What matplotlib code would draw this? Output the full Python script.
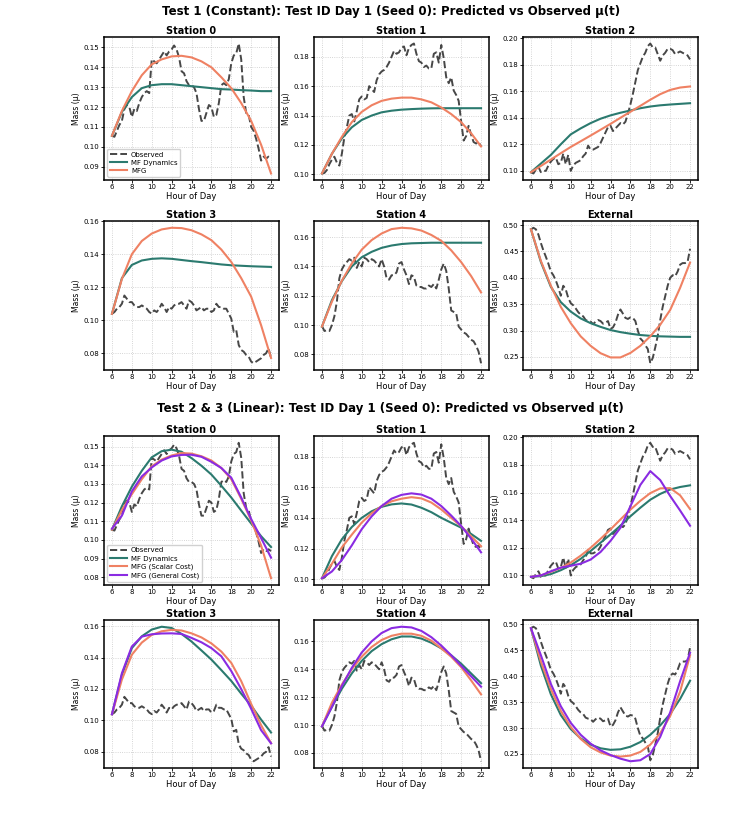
import numpy as np
import matplotlib
matplotlib.use('Agg')
import matplotlib.pyplot as plt

plt.rcParams.update({'font.size': 5.5})

# -------------------------------------------------------------------------------

COLORS = {
    'Observed': '#333333',
    'MF Dynamics': '#2b7a6f',      # teal
    'MFG': '#ef8163',              # salmon
    'MFG (General Cost)': '#8a2be2',  # purple
}

STATIONS = ['Station 0', 'Station 1', 'Station 2', 'Station 3', 'Station 4', 'External']

# observation times (15 min) and model output times (hourly)
t_obs = np.arange(6, 22.25, 0.25)
t_mod = np.arange(6, 23, 1)

# ---- observed mu(t), one row per hour (4 samples) -----------------------------
obs_s0 = [.1055, .105, .108, .111,  .113, .119, .121, .120,  .115, .119, .118, .122,
          .125, .127, .128, .127,  .144, .143, .142, .144,  .146, .148, .146, .148,
          .149, .151, .149, .145,  .138, .137, .133, .131,  .131, .130, .127, .119,
          .113, .113, .117, .121,  .120, .115, .116, .122,  .131, .132, .131, .134,
          .142, .146, .147, .152,  .144, .125, .117, .116,  .110, .108, .104, .099,
          .093, .095, .094, .095,  .094]
obs_s1 = [.1006, .101, .103, .107,  .110, .112, .108, .106,  .114, .125, .132, .140,
          .141, .136, .143, .151,  .153, .151, .152, .160,  .158, .156, .164, .168,
          .170, .171, .173, .176,  .180, .184, .182, .183,  .186, .187, .181, .186,
          .188, .189, .182, .177,  .176, .173, .174, .172,  .172, .182, .183, .176,
          .188, .179, .166, .162,  .166, .157, .154, .150,  .136, .123, .126, .133,
          .127, .122, .121, .122,  .119]
obs_s2 = [.099, .098, .101, .103,  .099, .100, .100, .104,  .107, .109, .110, .105,
          .106, .113, .105, .112,  .100, .104, .106, .107,  .108, .111, .113, .119,
          .116, .116, .117, .118,  .121, .125, .129, .133,  .134, .130, .132, .134,
          .136, .135, .137, .143,  .150, .158, .167, .176,  .181, .186, .189, .194,
          .196, .193, .193, .188,  .183, .187, .189, .192,  .192, .191, .188, .189,
          .190, .189, .188, .187,  .184]
obs_s3 = [.1039, .105, .107, .108,  .110, .115, .113, .111,  .111, .109, .108, .108,
          .109, .108, .107, .105,  .104, .106, .105, .107,  .110, .108, .105, .108,
          .107, .109, .110, .110,  .111, .109, .107, .112,  .111, .109, .106, .107,
          .108, .106, .107, .107,  .105, .106, .110, .108,  .108, .107, .107, .104,
          .101, .093, .094, .085,  .082, .081, .079, .078,  .075, .074, .075, .076,
          .077, .079, .080, .083,  .077]
obs_s4 = [.0994, .096, .0965, .096,  .100, .106, .116, .132,  .138, .141, .143, .145,
          .144, .146, .139, .143,  .140, .146, .145, .143,  .145, .144, .142, .140,
          .145, .140, .132, .131,  .134, .134, .136, .142,  .143, .138, .134, .128,
          .134, .133, .127, .126,  .126, .125, .125, .127,  .126, .128, .125, .131,
          .138, .142, .137, .125,  .110, .109, .108, .099,  .097, .095, .094, .092,
          .090, .089, .086, .082,  .074]
obs_ext = [.492, .495, .492, .482,  .466, .452, .440, .427,  .412, .405, .395, .382,
           .366, .385, .378, .362,  .352, .348, .342, .335,  .330, .327, .320, .318,
           .317, .312, .317, .320,  .318, .313, .315, .318,  .303, .306, .315, .330,
           .340, .332, .324, .322,  .325, .324, .318, .300,  .285, .280, .272, .265,
           .238, .248, .268, .290,  .320, .345, .365, .385,  .400, .405, .403, .412,
           .425, .428, .428, .430,  .455]

# ---- Test 1 (constant) predictions, hourly -----------------------------------
mfd_t1_s0 = [.1055, .1175, .125, .1295, .131, .1315, .1315, .131, .1305, .130, .1295, .129, .1288, .1285, .1283, .128, .128]
mfg_t1_s0 = [.1055, .118, .128, .136, .1415, .144, .1455, .1458, .145, .143, .140, .135, .1295, .122, .113, .101, .0865]
mfd_t1_s1 = [.1006, .114, .1245, .132, .137, .140, .1422, .1433, .144, .1444, .1447, .1449, .145, .145, .145, .145, .145]
mfg_t1_s1 = [.1006, .114, .1255, .1355, .1425, .147, .150, .1515, .1522, .1522, .151, .149, .1455, .141, .1355, .128, .119]
mfd_t1_s2 = [.099, .1055, .112, .120, .1275, .132, .136, .1393, .1418, .1438, .1455, .1472, .1485, .1494, .150, .1505, .151]
mfg_t1_s2 = [.099, .1037, .1085, .1133, .118, .1223, .1266, .131, .1354, .140, .1445, .149, .1536, .1578, .161, .1628, .1636]
mfd_t1_s3 = [.1039, .1255, .1335, .1362, .1372, .1375, .1372, .1365, .1358, .1352, .1345, .1338, .1333, .133, .1327, .1325, .1323]
mfg_t1_s3 = [.1039, .125, .140, .148, .1525, .155, .156, .1558, .1545, .152, .1485, .1428, .1353, .1255, .1143, .097, .0772]
mfd_t1_s4 = [.099, .117, .130, .140, .1463, .150, .1527, .1543, .1553, .1558, .156, .1562, .1562, .1562, .1562, .1562, .1562]
mfg_t1_s4 = [.099, .116, .1303, .142, .1515, .158, .1625, .1655, .1664, .166, .1645, .1615, .1575, .151, .143, .1335, .1223]
mfd_t1_ext = [.492, .430, .383, .354, .336, .323, .314, .307, .301, .297, .294, .2915, .290, .289, .2885, .288, .288]
mfg_t1_ext = [.492, .432, .385, .345, .314, .289, .271, .257, .249, .249, .2575, .271, .289, .311, .339, .381, .429]

# ---- Test 2 & 3 (linear) predictions, hourly ---------------------------------
mfd_t2_s0 = [.1055, .118, .1285, .137, .1442, .1475, .1483, .1472, .1438, .1397, .135, .129, .1227, .1157, .1088, .102, .0962]
mfs_t2_s0 = [.1055, .116, .1245, .1325, .1394, .143, .1452, .1465, .1462, .1448, .1425, .1385, .1325, .122, .1105, .097, .0795]
mfgc_t2_s0 = [.106, .113, .126, .134, .1388, .1425, .1447, .1455, .1456, .1445, .1418, .1385, .1333, .1227, .1112, .101, .0905]
mfd_t2_s1 = [.1006, .115, .126, .134, .140, .1443, .1472, .1488, .1494, .1487, .1466, .1437, .140, .1368, .1336, .1295, .125]
mfs_t2_s1 = [.1006, .110, .1207, .129, .1369, .143, .1477, .1508, .1525, .1535, .1527, .150, .1455, .140, .1345, .128, .1215]
mfgc_t2_s1 = [.1006, .105, .1125, .122, .1326, .141, .1477, .1525, .155, .156, .1552, .1525, .1477, .1415, .1347, .1265, .1175]
mfd_t2_s2 = [.099, .0995, .101, .1038, .1074, .112, .1177, .1237, .1297, .136, .1428, .149, .1548, .159, .1622, .164, .1652]
mfs_t2_s2 = [.099, .100, .1026, .1055, .1093, .1143, .120, .1265, .1333, .1405, .1476, .154, .1596, .163, .1632, .158, .148]
mfgc_t2_s2 = [.099, .100, .103, .1057, .107, .1085, .1115, .117, .125, .1345, .150, .1655, .1755, .169, .1575, .147, .136]
mfd_t2_s3 = [.1039, .129, .146, .1535, .1578, .1596, .1588, .155, .1502, .1445, .1387, .132, .1251, .117, .1094, .1005, .0923]
mfs_t2_s3 = [.1039, .126, .1418, .1495, .1544, .1567, .1576, .1572, .1554, .1528, .149, .1438, .1366, .125, .1105, .097, .0855]
mfgc_t2_s3 = [.1039, .130, .147, .1533, .1548, .1553, .1554, .155, .1525, .1497, .146, .1408, .1314, .1199, .1074, .0938, .0854]
mfd_t2_s4 = [.099, .113, .126, .137, .146, .153, .158, .1615, .1635, .1635, .162, .159, .155, .150, .144, .137, .130]
mfs_t2_s4 = [.099, .116, .129, .140, .149, .156, .161, .164, .1655, .1655, .164, .1605, .155, .149, .1415, .132, .122]
mfgc_t2_s4 = [.099, .113, .128, .141, .152, .160, .166, .1695, .1705, .170, .1675, .163, .157, .150, .1425, .135, .1275]
mfd_t2_ext = [.492, .420, .365, .325, .298, .280, .268, .261, .258, .259, .264, .273, .287, .305, .327, .356, .391]
mfs_t2_ext = [.492, .428, .375, .333, .302, .279, .263, .253, .247, .245, .247, .254, .268, .290, .323, .370, .440]
mfgc_t2_ext = [.492, .440, .385, .342, .310, .287, .270, .257, .248, .241, .236, .238, .250, .283, .330, .390, .445]

OBS = [obs_s0, obs_s1, obs_s2, obs_s3, obs_s4, obs_ext]

# -------------------------------------------------------------------------------

FIG_W, FIG_H = 737, 814
COL_X = [104, 314, 523]
COL_W = 175
ROWS_TOP = [(37, 180), (221, 370)]
ROWS_BOT = [(436, 585), (620, 768)]


def make_axes(fig, rows):
    axes = []
    for top, bottom in rows:
        for x in COL_X:
            ax = fig.add_axes([x / FIG_W, 1 - bottom / FIG_H,
                               COL_W / FIG_W, (bottom - top) / FIG_H])
            axes.append(ax)
    return axes


def style_ax(ax, title):
    ax.set_title(title, fontsize=7, fontweight='bold', pad=2)
    ax.set_xlabel('Hour of Day', fontsize=6, labelpad=1)
    ax.set_ylabel('Mass (μ)', fontsize=5.5, labelpad=2)
    ax.set_xticks(range(6, 23, 2))
    ax.tick_params(labelsize=5, length=2, width=0.6, pad=1.2)
    ax.grid(True, linestyle=':', linewidth=0.6, color='#bbbbbb', alpha=0.8)
    for s in ax.spines.values():
        s.set_linewidth(1.1)
        s.set_color('black')


def add_legend(ax):
    ax.legend(loc='lower left', fontsize=5, framealpha=0.9, handlelength=2.4,
              labelspacing=0.3, borderpad=0.4, handletextpad=0.6)


def plot_results():
    fig = plt.figure(figsize=(FIG_W / 100, FIG_H / 100), dpi=100)

    ## 1. Test 1 (constant)
    t1 = [(mfd_t1_s0, mfg_t1_s0), (mfd_t1_s1, mfg_t1_s1), (mfd_t1_s2, mfg_t1_s2),
          (mfd_t1_s3, mfg_t1_s3), (mfd_t1_s4, mfg_t1_s4), (mfd_t1_ext, mfg_t1_ext)]
    for i, ax in enumerate(make_axes(fig, ROWS_TOP)):
        ax.plot(t_obs, OBS[i], '--', color=COLORS['Observed'], lw=1.4, alpha=0.9, label='Observed')
        ax.plot(t_mod, t1[i][0], color=COLORS['MF Dynamics'], lw=1.5, label='MF Dynamics')
        ax.plot(t_mod, t1[i][1], color=COLORS['MFG'], lw=1.5, label='MFG')
        style_ax(ax, STATIONS[i])
        if i == 0:
            add_legend(ax)
    fig.text(0.53, 1 - 11 / FIG_H,
             'Test 1 (Constant): Test ID Day 1 (Seed 0): Predicted vs Observed μ(t)',
             ha='center', va='center', fontsize=8.5, fontweight='bold')

    ## 2. Test 2 & 3 (linear)
    t2 = [(mfd_t2_s0, mfs_t2_s0, mfgc_t2_s0), (mfd_t2_s1, mfs_t2_s1, mfgc_t2_s1),
          (mfd_t2_s2, mfs_t2_s2, mfgc_t2_s2), (mfd_t2_s3, mfs_t2_s3, mfgc_t2_s3),
          (mfd_t2_s4, mfs_t2_s4, mfgc_t2_s4), (mfd_t2_ext, mfs_t2_ext, mfgc_t2_ext)]
    for i, ax in enumerate(make_axes(fig, ROWS_BOT)):
        ax.plot(t_obs, OBS[i], '--', color=COLORS['Observed'], lw=1.4, alpha=0.9, label='Observed')
        ax.plot(t_mod, t2[i][0], color=COLORS['MF Dynamics'], lw=1.5, label='MF Dynamics')
        ax.plot(t_mod, t2[i][1], color=COLORS['MFG'], lw=1.5, label='MFG (Scalar Cost)')
        ax.plot(t_mod, t2[i][2], color=COLORS['MFG (General Cost)'], lw=1.5, label='MFG (General Cost)')
        style_ax(ax, STATIONS[i])
        if i == 0:
            add_legend(ax)
    fig.text(0.53, 1 - 408 / FIG_H,
             'Test 2 & 3 (Linear): Test ID Day 1 (Seed 0): Predicted vs Observed μ(t)',
             ha='center', va='center', fontsize=8.5, fontweight='bold')

    fig.savefig('out.png', dpi=100)


if __name__ == '__main__':
    plot_results()
